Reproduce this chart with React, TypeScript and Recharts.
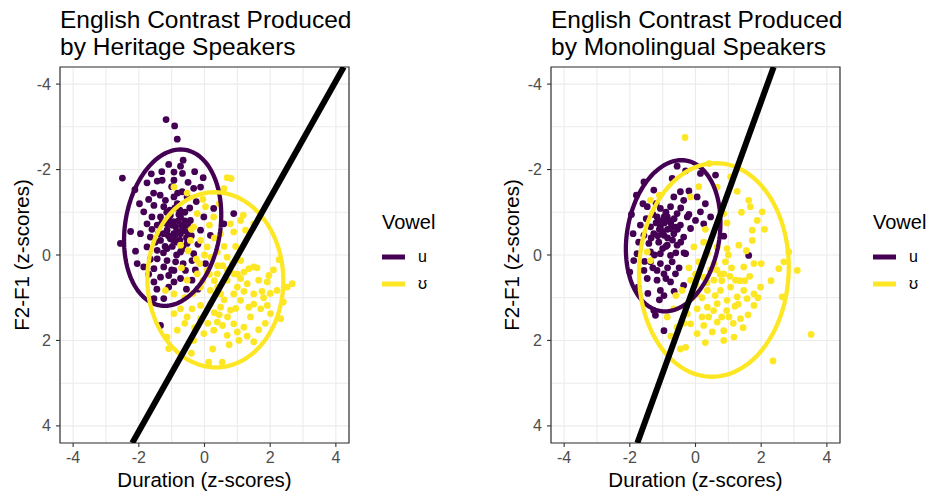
import { ScatterChart, Scatter, XAxis, YAxis, CartesianGrid, ReferenceArea, Legend } from 'recharts';

type Pt = [number, number];

const vowelNames = ['u', 'ʊ'];
const vowelColors = ['#440154', '#FDE725'];
const tickValues = [-4, -3, -2, -1, 0, 1, 2, 3, 4];
const labelledTicks = [-4, -2, 0, 2, 4];
const axisDomain = [-4.4, 4.4];

const heritageTitle = ['English Contrast Produced', 'by Heritage Speakers'];
const monolingualTitle = ['English Contrast Produced', 'by Monolingual Speakers'];

// heritage speakers, /u/
const heritageU: Pt[] = [
  [-1.17, -3.17], [-0.91, -3.02], [-0.83, -2.71], [-2.5, -1.8], [-0.65, -2.22], [-1.09, -2.12], [-0.73, -2.08],
  [-0.93, -1.94], [-0.67, -1.91], [-0.04, -1.81], [-1.44, -1.73], [-1.29, -1.75], [-1.75, -1.69], [-0.93, -1.75],
  [-0.33, -1.56], [-0.12, -1.59], [-2.12, -1.53], [-0.68, -1.48], [-0.93, -1.36], [-1.19, -1.28], [-0.53, -1.36],
  [-1.54, -1.16], [-1.24, -1.13], [-0.83, -1.2], [0.28, -1.09], [-0.02, -0.89], [0.89, -0.97], [0.59, -0.73],
  [-1.85, -1.01], [-1.6, -0.89], [-1.34, -0.89], [-1.04, -0.93], [-0.73, -0.89], [-0.43, -0.81], [-1.75, -0.73],
  [-1.44, -0.7], [-1.14, -0.73], [-0.88, -0.66], [-0.63, -0.66], [-1.14, -0.58], [-0.93, -0.5], [-0.73, -0.5],
  [-0.53, -0.54], [-0.12, -0.58], [0.18, -0.46], [-1.95, -0.5], [-1.65, -0.42], [-1.34, -0.34], [-1.04, -0.38],
  [-0.83, -0.3], [-0.53, -0.27], [-2.56, -0.27], [-2.1, -0.09], [-1.75, -0.19], [-1.44, -0.11], [-1.14, -0.15],
  [-0.73, -0.07], [-0.33, -0.03], [-1.44, 0.09], [-1.14, 0.13], [-0.88, 0.16], [-0.38, 0.13], [0.03, 0.2],
  [-1.85, 0.28], [-1.54, 0.32], [-1.24, 0.28], [-0.93, 0.36], [-0.58, 0.36], [-1.34, 0.52], [-1.09, 0.48],
  [-0.73, 0.55], [-0.38, 0.59], [-1.54, 0.63], [-0.93, 0.63], [-1.09, 0.75], [-1.54, 1.02], [-1.24, 1.02],
  [-1.34, 1.65], [-0.8, -0.8], [-0.7, -0.7], [-0.95, -0.78], [-1.05, -1.05], [-0.6, -1.0], [-0.85, -0.55],
  [-0.75, -0.35], [-0.98, -0.2], [-0.65, -0.15], [-1.25, -0.5], [-1.3, -0.75], [-0.45, -1.1], [-0.55, -0.4],
  [-0.9, -1.1], [-1.1, -0.85], [-0.68, -0.58], [-0.78, -0.95], [-1.2, -0.2], [-1.6, -0.6], [-1.7, -1.3],
  [-1.35, -1.4], [-0.25, -1.25], [-0.2, -0.25], [-0.28, 0.35], [-1.98, -1.2], [-2.05, 0.2], [-1.65, 0.1],
  [-1.0, -0.7], [-0.9, -0.45], [-0.6, -0.8], [-0.75, -1.05], [-1.15, -1.0], [-1.4, -0.5], [-0.5, -0.7],
  [-0.95, -0.35], [-0.7, -0.2], [-1.1, -0.45], [-1.25, -0.05], [-0.85, 0.0], [-1.5, -0.3], [-0.4, -0.45],
  [-1.0, 0.35], [-0.65, 0.2], [-1.7, 0.45], [-1.45, 0.8], [-2.25, -0.55], [-0.3, -1.95], [-1.0, -1.6],
  [-1.55, -1.45], [-0.5, -1.7], [-1.3, -1.95], [-0.2, 0.8], [-0.55, 0.8], [-0.82, -1.45], [-1.62, -1.9],
];

// heritage speakers, /ʊ/
const heritageV: Pt[] = [
  [0.69, -1.81], [0.81, -1.79], [0.59, -1.55], [-0.93, -1.59], [-0.53, -1.45], [1.18, -0.93], [1.1, -0.81],
  [0.79, -0.73], [0.89, -0.54], [1.25, -0.58], [1.5, -0.73], [-0.33, -0.66], [-0.12, -0.34], [-0.43, -0.34],
  [-0.73, -0.23], [0.08, -0.19], [0.39, -0.07], [0.69, 0.05], [1.1, 0.13], [2.27, 0.11], [1.35, 0.32],
  [1.65, 0.59], [1.91, 0.63], [2.21, 0.83], [2.67, 0.67], [2.52, 0.75], [1.96, 0.48], [0.89, 0.44],
  [1.1, 0.55], [1.3, 0.67], [0.69, 0.59], [0.39, 0.44], [0.08, 0.36], [-0.22, 0.44], [-0.53, 0.59],
  [-0.12, 0.75], [0.18, 0.83], [0.49, 0.91], [0.89, 0.91], [1.1, 1.06], [1.5, 0.91], [1.71, 1.26],
  [1.35, 1.22], [1.91, 1.18], [2.01, 1.37], [2.32, 1.49], [0.79, 1.29], [0.49, 1.22], [0.18, 1.14],
  [-0.12, 1.18], [-0.38, 1.26], [-0.73, 1.26], [-0.93, 1.37], [-0.53, 1.45], [-0.12, 1.49], [0.39, 1.57],
  [0.89, 1.61], [1.2, 1.69], [1.0, 1.8], [0.69, 1.88], [0.28, 1.76], [-0.02, 1.84], [-0.33, 2.0],
  [-0.83, 1.76], [-1.14, 1.92], [-1.09, 2.19], [1.5, 2.03], [0.13, 2.51], [0.54, 2.51], [-1.19, 0.83],
  [-0.93, 0.91], [1.5, 0.28], [-0.22, -0.97], [0.03, -1.13], [0.28, -0.89], [0.49, -0.5], [0.2, 0.05],
  [0.55, 0.25], [0.85, 0.2], [1.2, 0.4], [1.0, 0.75], [0.6, 1.05], [0.3, 0.6], [-0.05, 0.6], [-0.35, 0.9],
  [1.4, 1.45], [1.75, 0.85], [0.0, 0.0], [-0.25, 0.1], [0.45, 1.4], [1.3, 1.9], [0.75, 2.1], [-0.6, 1.0],
  [-0.5, -0.1], [2.1, 0.35], [1.85, 1.6], [0.95, 1.25], [0.1, 1.6], [-0.7, 0.3], [-0.4, -0.6], [0.3, -0.4],
  [0.4, 0.25], [0.7, 0.35], [1.0, 0.45], [1.6, 0.3], [1.8, 1.0], [2.4, 1.1], [1.5, 1.15], [1.2, 0.85],
  [0.3, 1.35], [0.7, 1.45], [-0.3, 1.7], [0.55, 1.65], [1.05, 2.0], [-0.6, 1.6], [1.65, 1.75], [0.15, 0.45],
  [0.4, 0.75], [2.0, 0.9], [-0.15, 0.2], [0.6, -0.2], [0.95, -0.2], [0.15, -0.7], [-0.05, -1.3], [0.45, -1.2],
  [0.25, 2.2], [-0.4, 2.3],
];

// monolingual speakers, /u/
const monoU: Pt[] = [
  [-0.56, -2.08], [-1.57, -1.71], [-1.27, -1.52], [-0.71, -1.79], [-0.3, -1.97], [0.15, -1.91], [0.61, -1.87],
  [-0.46, -1.48], [-0.66, -1.36], [0.05, -1.36], [-0.36, -1.28], [-1.47, -1.13], [-1.07, -1.09], [-0.76, -1.13],
  [0.15, -1.01], [0.46, -0.89], [-1.17, -0.89], [-0.86, -0.89], [-0.56, -0.97], [-0.25, -0.89], [0.0, -0.81],
  [0.25, -0.73], [-1.68, -0.7], [-1.37, -0.66], [-1.07, -0.66], [-0.76, -0.62], [-0.46, -0.7], [-0.15, -0.62],
  [0.86, -0.44], [-1.57, -0.46], [-1.27, -0.5], [-0.96, -0.46], [-0.66, -0.5], [-0.36, -0.42], [-1.73, -0.3],
  [-1.42, -0.27], [-1.12, -0.3], [-0.86, -0.23], [-0.56, -0.23], [-1.78, -0.03], [-1.37, -0.07], [-1.07, -0.03],
  [-0.76, 0.01], [-0.3, -0.03], [-1.37, 0.16], [-1.07, 0.2], [-0.71, 0.16], [-1.57, 0.36], [-1.17, 0.36],
  [-0.96, 0.44], [-0.61, 0.44], [-1.47, 0.55], [-1.17, 0.59], [-0.76, 0.63], [-0.36, 0.71], [-1.07, 0.83],
  [-0.96, 0.95], [-1.27, 1.3], [-1.22, 1.41], [-0.96, 1.77], [1.62, 0.01], [-1.88, 0.13], [-0.95, -0.75],
  [-0.8, -0.8], [-1.0, -0.55], [-0.65, -0.85], [-1.2, -0.75], [-0.9, -1.0], [-0.55, -0.6], [-1.3, -0.95],
  [-0.7, -0.35], [-1.0, -0.15], [-0.45, -1.1], [-1.2, -1.2], [-0.85, -0.4], [-1.5, -0.85], [-0.6, -0.05],
  [-1.25, 0.0], [-0.85, 0.3], [-1.95, -0.95], [-2.0, 0.4], [-1.75, 0.75], [-1.45, 0.9], [-0.5, 0.3], [-1.8, -1.4],
  [-1.1, -0.6], [-0.75, -0.75], [-0.95, -0.9], [-1.05, -0.8], [-0.6, -0.65], [-0.85, -0.6], [-1.35, -0.4],
  [-1.15, -0.45], [-0.9, -0.2], [-0.45, -0.3], [-1.3, 0.3], [-0.9, 0.55], [-0.65, 0.85], [-1.6, -1.2],
  [-0.2, -1.5], [0.3, -1.2], [-1.9, -0.5], [-0.35, -0.05], [-0.2, -0.95], [-1.55, 0.15], [-1.1, 1.05],
];

// monolingual speakers, /ʊ/
const monoV: Pt[] = [
  [-0.32, -2.75], [0.41, -2.14], [1.27, -1.49], [1.62, -1.28], [1.67, -1.13], [2.03, -1.01], [1.88, -0.81],
  [1.73, -0.58], [1.73, -0.34], [1.32, -0.23], [0.96, -0.15], [0.66, -0.19], [0.25, -0.3], [-0.15, -1.36],
  [-1.37, -1.28], [0.96, -0.75], [2.84, -0.07], [2.69, 0.16], [2.54, 0.32], [3.1, 0.36], [3.52, 1.86],
  [2.36, 2.48], [2.64, 0.98], [1.98, 0.75], [1.78, 0.91], [1.47, 0.83], [1.22, 0.59], [0.86, 0.44],
  [0.56, 0.59], [0.25, 0.52], [-0.15, 0.59], [-0.41, 0.83], [0.05, 0.91], [0.36, 0.83], [0.76, 0.83],
  [1.07, 0.75], [1.27, 0.98], [1.57, 1.02], [1.78, 1.18], [0.96, 1.06], [0.66, 1.14], [0.36, 1.22],
  [0.05, 1.26], [-0.25, 1.38], [-0.66, 1.26], [-0.86, 1.45], [-0.56, 1.69], [-0.15, 1.61], [0.25, 1.65],
  [0.66, 1.57], [1.02, 1.45], [1.37, 1.49], [0.86, 1.77], [0.51, 1.8], [0.05, 1.84], [1.17, 1.92],
  [0.86, 2.0], [-0.3, 2.16], [-0.46, 2.2], [1.47, 0.28], [1.78, 0.2], [0.91, 0.16], [0.56, 0.2],
  [0.1, 0.16], [0.36, -0.03], [0.86, -0.97], [0.66, -1.59], [1.07, -1.83], [-1.47, -0.07], [-1.37, 0.13],
  [-0.05, -0.19], [0.45, 0.35], [0.75, 0.45], [1.1, 0.3], [1.35, 0.6], [0.2, 1.0], [0.95, 1.3], [1.6, 1.4],
  [0.4, 1.45], [-0.1, 1.0], [0.6, 0.95], [1.2, 1.2], [0.3, -0.6], [0.0, 0.45], [-0.6, 0.95], [1.55, -0.1],
  [2.0, 0.2], [-1.1, -1.4], [0.1, -1.6], [-0.2, 0.3], [0.8, 0.6], [1.05, 0.5], [1.5, 0.6], [0.65, 0.35],
  [0.35, 0.65], [1.3, 1.15], [1.9, 1.0], [0.55, 1.3], [0.8, 1.45], [1.45, 1.7], [1.15, 1.6], [0.2, 1.45],
  [-0.35, 1.6], [0.0, 0.7], [1.65, 0.5], [2.3, 0.6], [2.1, -0.6], [0.75, -1.15], [1.4, -1.0], [0.3, 2.05],
  [-0.75, 1.9], [1.0, 0.0],
];

// ellipse: centre x, centre y, half width, half height, x shift of the top point
const heritageEllipses = [
  [-0.97, -0.64, 1.48, 1.83, 0.24],
  [0.33, 0.58, 2.07, 2.05, -0.02],
];
const monoEllipses = [
  [-0.68, -0.45, 1.44, 1.77, 0.25],
  [0.56, 0.35, 2.28, 2.5, 0.06],
];

// category boundary, end points
const heritageBoundary: Pt[] = [[-2.2, 4.4], [4.24, -4.4]];
const monoBoundary: Pt[] = [[-1.77, 4.4], [2.38, -4.4]];

const FONT = '"Liberation Sans", Arial, Helvetica, sans-serif';

const toXY = (pts: Pt[]) => pts.map(([x, y]) => ({ x, y }));

const ellipseOutline = ([cx, cy, w, h, s]: number[]) => {
  const a = Math.sqrt(Math.max(w * w - s * s, 0));
  const out = [];
  for (let i = 0; i <= 120; i++) {
    const t = (i / 120) * 2 * Math.PI;
    out.push({ x: cx + a * Math.cos(t) - s * Math.sin(t), y: cy + h * Math.sin(t) });
  }
  return out;
};

const XTick = (props: any) => {
  const { x, y, payload } = props;
  if (!labelledTicks.includes(payload.value)) return <g />;
  return (
    <g>
      <line x1={x} x2={x} y1={y - 7} y2={y - 3} stroke="#333333" strokeWidth={1.1} />
      <text x={x} y={y + 13} textAnchor="middle" fontSize={16} fill="#4D4D4D">
        {String(payload.value)}
      </text>
    </g>
  );
};

const YTick = (props: any) => {
  const { x, y, payload } = props;
  if (!labelledTicks.includes(payload.value)) return <g />;
  return (
    <g>
      <line x1={x + 3} x2={x + 7} y1={y} y2={y} stroke="#333333" strokeWidth={1.1} />
      <text x={x - 2} y={y + 5.5} textAnchor="end" fontSize={16} fill="#4D4D4D">
        {String(payload.value)}
      </text>
    </g>
  );
};

const dot = (color: string) => (p: any) => <circle cx={p.cx} cy={p.cy} r={3.4} fill={color} />;
const noDot = () => <g />;

const VowelLegend = (props: any) => {
  const items = (props.payload || []).filter((e: any) => vowelNames.includes(e.value));
  return (
    <svg width={90} height={100} style={{ overflow: 'visible' }}>
      <text x={4} y={24} fontSize={20} fill="#000">Vowel</text>
      {items.map((e: any, i: number) => (
        <g key={e.value}>
          <line x1={4} x2={27} y1={52 + i * 27} y2={52 + i * 27} stroke={e.color} strokeWidth={5} />
          <text x={40} y={57 + i * 27} fontSize={16} fill="#000">{e.value}</text>
        </g>
      ))}
    </svg>
  );
};

interface PanelProps {
  left: number;
  width: number;
  yAxisWidth: number;
  title: string[];
  groups: Pt[][];
  ellipses: number[][];
  boundary: Pt[];
}

const Panel = ({ left, width, yAxisWidth, title, groups, ellipses, boundary }: PanelProps) => {
  return (
    <div style={{ position: 'absolute', left, top: 0, width, height: 498 }}>
      <svg width={width} height={66} style={{ position: 'absolute', left: 0, top: 0 }}>
        <text x={yAxisWidth} y={28} fontSize={24.5} fill="#000">{title[0]}</text>
        <text x={yAxisWidth} y={55} fontSize={24.5} fill="#000">{title[1]}</text>
      </svg>
      <ScatterChart width={width} height={498} margin={{ top: 67, right: width - yAxisWidth - 289, bottom: 0, left: 0 }}>
        <CartesianGrid stroke="#EBEBEB" strokeWidth={1.1} />
        <XAxis
          type="number"
          dataKey="x"
          domain={axisDomain}
          ticks={tickValues}
          allowDataOverflow
          height={55}
          tickSize={4}
          tickMargin={3}
          tickLine={false}
          axisLine={false}
          tick={<XTick />}
          label={{
            content: ({ viewBox }: any) => (
              <text x={viewBox.x + viewBox.width / 2} y={viewBox.y + 44} textAnchor="middle" fontSize={20.5} fill="#000">
                Duration (z-scores)
              </text>
            ),
          }}
        />
        <YAxis
          type="number"
          dataKey="y"
          reversed
          domain={axisDomain}
          ticks={tickValues}
          allowDataOverflow
          width={yAxisWidth}
          tickSize={4}
          tickMargin={3}
          tickLine={false}
          axisLine={false}
          tick={<YTick />}
          label={{
            content: ({ viewBox }: any) => {
              const cx = viewBox.x + 29;
              const cy = viewBox.y + viewBox.height / 2;
              return (
                <text x={cx} y={cy} transform={`rotate(-90 ${cx} ${cy})`} textAnchor="middle" fontSize={20.5} fill="#000">
                  F2-F1 (z-scores)
                </text>
              );
            },
          }}
        />
        {groups.map((g, i) => (
          <Scatter
            key={vowelNames[i]}
            name={vowelNames[i]}
            data={toXY(g)}
            fill={vowelColors[i]}
            shape={dot(vowelColors[i])}
            isAnimationActive={false}
          />
        ))}
        {ellipses.map((e, i) => (
          <Scatter
            key={`ell-${i}`}
            name={`ellipse ${vowelNames[i]}`}
            data={ellipseOutline(e)}
            legendType="none"
            shape={noDot}
            line={{ stroke: vowelColors[i], strokeWidth: 4.3 }}
            isAnimationActive={false}
          />
        ))}
        <Scatter
          name="boundary"
          data={toXY(boundary)}
          legendType="none"
          shape={noDot}
          line={{ stroke: '#000000', strokeWidth: 6 }}
          isAnimationActive={false}
        />
        <ReferenceArea x1={-4.4} x2={4.4} y1={-4.4} y2={4.4} fill="none" stroke="#333333" strokeWidth={1.2} />
        <Legend
          layout="vertical"
          align="center"
          verticalAlign="middle"
          content={<VowelLegend />}
          wrapperStyle={{ left: yAxisWidth + 289 + 29, top: 205, width: 90, height: 100 }}
        />
      </ScatterChart>
    </div>
  );
};

export default function App() {
  return (
    <div style={{ position: 'absolute', left: 0, top: 0, width: 930, height: 498, background: '#fff', fontFamily: FONT }}>
      <Panel
        left={0}
        width={465}
        yAxisWidth={60}
        title={heritageTitle}
        groups={[heritageU, heritageV]}
        ellipses={heritageEllipses}
        boundary={heritageBoundary}
      />
      <Panel
        left={490}
        width={440}
        yAxisWidth={61}
        title={monolingualTitle}
        groups={[monoU, monoV]}
        ellipses={monoEllipses}
        boundary={monoBoundary}
      />
    </div>
  );
}
